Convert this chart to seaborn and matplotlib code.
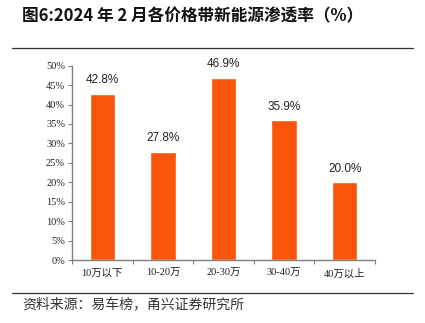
import matplotlib
matplotlib.use("Agg")
import matplotlib.pyplot as plt
import seaborn as sns
import numpy as np
import pandas as pd
from matplotlib.lines import Line2D

categories = ["10万以下", "10-20万", "20-30万", "30-40万", "40万以上"]
values = [42.8, 27.8, 46.9, 35.9, 20.0]
yticks = [0, 5, 10, 15, 20, 25, 30, 35, 40, 45, 50]

sns.set_theme(style="white")
plt.rcParams['font.family'] = ['Liberation Serif', 'Noto Sans CJK SC', 'DejaVu Sans']

df = pd.DataFrame({"cat": categories, "val": values})

fig = plt.figure(figsize=(4.25, 3.23), dpi=100)
ax = fig.add_axes([72/425, 1-260/323, (375-72)/425, (260-65.7)/323])

sns.barplot(data=df, x="cat", y="val", color="#F9560B", saturation=1, width=0.42, ax=ax)

ax.set_xlim(-0.5, 4.5)
ax.set_ylim(0, 50)
ax.set_yticks(yticks)
ax.set_yticklabels([f"{t}%" for t in yticks], fontsize=7.5, color="#222222")
ax.set_xlabel("")
ax.set_ylabel("")
ax.tick_params(axis='y', left=True, length=3, width=0.8, color="#808080", pad=2)
ax.tick_params(axis='x', which='major', length=0, pad=6, labelsize=7.5, labelcolor="#222222")
ax.set_xticks(np.arange(-0.5, 5.0, 1.0), minor=True)
ax.tick_params(axis='x', which='minor', bottom=True, length=3, width=0.8, color="#808080")

for s in ["top", "right"]:
    ax.spines[s].set_visible(False)
for s in ["left", "bottom"]:
    ax.spines[s].set_color("#808080")
    ax.spines[s].set_linewidth(1.0)

for i, v in enumerate(values):
    ax.text(i, v + 2.0, f"{v:.1f}%", ha="center", va="bottom", fontsize=8.5,
            family=["Liberation Sans", "DejaVu Sans"], color="#222222")

fig.text(22/425, 1-16/323, "图6:2024 年 2 月各价格带新能源渗透率（%）", fontsize=12,
         fontweight="bold", ha="left", va="center",
         family=["Noto Sans CJK SC", "DejaVu Sans"], color="#111111")

fig.add_artist(Line2D([12/425, 413/425], [1-48/323, 1-48/323], color="#333333", lw=0.9,
                      transform=fig.transFigure))
fig.add_artist(Line2D([12/425, 413/425], [1-293/323, 1-293/323], color="#333333", lw=0.9,
                      transform=fig.transFigure))

fig.text(22/425, 1-304/323, "资料来源：易车榜，甬兴证券研究所", fontsize=10, style="italic",
         ha="left", va="center", family=["Noto Sans CJK SC", "DejaVu Sans"], color="#333333")

fig.savefig("out.png", dpi=100, facecolor="white")
